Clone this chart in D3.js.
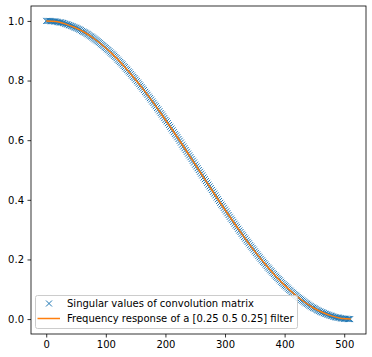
<!DOCTYPE html>
<meta charset="utf-8">
<style>
body { margin: 0; background: #fff; }
text { font: 10px "DejaVu Sans", sans-serif; fill: #000; }
.axis path, .axis line { stroke: #000; stroke-width: 0.8; }
</style>
<svg width="372" height="357"></svg>
<script src="https://cdnjs.cloudflare.com/ajax/libs/d3/7.8.5/d3.min.js"></script>
<script>

// singular values, one every 2nd index (0, 2, ..., 510)
var svStep = 2;
var singularValues = [
  1.000, 1.000, 1.000, 1.000, 0.999, 0.999, 0.999, 0.998, 0.998, 0.997, 0.996, 0.995, 0.995, 0.994, 0.993, 0.992,
  0.990, 0.989, 0.988, 0.986, 0.985, 0.983, 0.982, 0.980, 0.978, 0.977, 0.975, 0.973, 0.971, 0.969, 0.966, 0.964,
  0.962, 0.960, 0.957, 0.955, 0.952, 0.949, 0.947, 0.944, 0.941, 0.938, 0.935, 0.932, 0.929, 0.926, 0.922, 0.919,
  0.916, 0.912, 0.909, 0.905, 0.902, 0.898, 0.894, 0.890, 0.887, 0.883, 0.879, 0.875, 0.870, 0.866, 0.862, 0.858,
  0.854, 0.849, 0.845, 0.840, 0.836, 0.831, 0.827, 0.822, 0.817, 0.812, 0.808, 0.803, 0.798, 0.793, 0.788, 0.783,
  0.778, 0.773, 0.768, 0.762, 0.757, 0.752, 0.746, 0.741, 0.736, 0.730, 0.725, 0.719, 0.714, 0.708, 0.703, 0.697,
  0.691, 0.686, 0.680, 0.674, 0.668, 0.663, 0.657, 0.651, 0.645, 0.639, 0.633, 0.627, 0.621, 0.616, 0.610, 0.604,
  0.598, 0.592, 0.585, 0.579, 0.573, 0.567, 0.561, 0.555, 0.549, 0.543, 0.537, 0.531, 0.525, 0.518, 0.512, 0.506,
  0.500, 0.494, 0.488, 0.482, 0.475, 0.469, 0.463, 0.457, 0.451, 0.445, 0.439, 0.433, 0.427, 0.421, 0.415, 0.408,
  0.402, 0.396, 0.390, 0.384, 0.379, 0.373, 0.367, 0.361, 0.355, 0.349, 0.343, 0.337, 0.332, 0.326, 0.320, 0.314,
  0.309, 0.303, 0.297, 0.292, 0.286, 0.281, 0.275, 0.270, 0.264, 0.259, 0.254, 0.248, 0.243, 0.238, 0.233, 0.227,
  0.222, 0.217, 0.212, 0.207, 0.202, 0.197, 0.192, 0.188, 0.183, 0.178, 0.173, 0.169, 0.164, 0.160, 0.155, 0.151,
  0.146, 0.142, 0.138, 0.134, 0.130, 0.125, 0.121, 0.117, 0.113, 0.110, 0.106, 0.102, 0.098, 0.095, 0.091, 0.088,
  0.084, 0.081, 0.078, 0.074, 0.071, 0.068, 0.065, 0.062, 0.059, 0.056, 0.053, 0.051, 0.048, 0.045, 0.043, 0.040,
  0.038, 0.036, 0.034, 0.031, 0.029, 0.027, 0.025, 0.023, 0.022, 0.020, 0.018, 0.017, 0.015, 0.014, 0.012, 0.011,
  0.010, 0.008, 0.007, 0.006, 0.005, 0.005, 0.004, 0.003, 0.002, 0.002, 0.001, 0.001, 0.001, 0.000, 0.000, 0.000
];

var freqIndex = [0, 16, 32, 48, 64, 80, 96, 112, 128, 144, 160, 176, 192, 208, 224, 240,
  256, 272, 288, 304, 320, 336, 352, 368, 384, 400, 416, 432, 448, 464, 480, 496, 511];
var freqResponse = [1.000, 0.998, 0.990, 0.978, 0.962, 0.941, 0.916, 0.887, 0.854, 0.817,
  0.778, 0.736, 0.691, 0.645, 0.598, 0.549, 0.500, 0.451, 0.402, 0.355, 0.309, 0.264,
  0.222, 0.183, 0.146, 0.113, 0.084, 0.059, 0.038, 0.022, 0.010, 0.002, 0.000];

var xTicks = [0, 100, 200, 300, 400, 500];
var yTicks = [0.0, 0.2, 0.4, 0.6, 0.8, 1.0];
var labels = ["Singular values of convolution matrix",
              "Frequency response of a [0.25 0.5 0.25] filter"];

var svg = d3.select("svg"),
    plotL = 31, plotR = 366, plotT = 6, plotB = 334;

var x = d3.scaleLinear().domain([-25.55, 536.55]).range([plotL, plotR]);
var y = d3.scaleLinear().domain([-0.05, 1.05]).range([plotB, plotT]);

var blue = "#1f77b4", orange = "#ff7f0e";
var cross = "M-3,-3L3,3M-3,3L3,-3";

// markers
svg.append("g")
  .selectAll("path")
  .data(singularValues)
  .enter().append("path")
    .attr("transform", function(d, i) { return "translate(" + x(i * svStep) + "," + y(d) + ")"; })
    .attr("d", cross)
    .attr("stroke", blue)
    .attr("stroke-width", 1)
    .attr("fill", "none");

// frequency response line
var line = d3.line()
    .x(function(d, i) { return x(freqIndex[i]); })
    .y(function(d) { return y(d); })
    .curve(d3.curveMonotoneX);

svg.append("path")
    .datum(freqResponse)
    .attr("d", line)
    .attr("fill", "none")
    .attr("stroke", orange)
    .attr("stroke-width", 1.5);

// axes
svg.append("g")
    .attr("class", "axis")
    .attr("transform", "translate(0," + plotB + ")")
    .call(d3.axisBottom(x).tickValues(xTicks).tickSize(3.5).tickPadding(3.5).tickSizeOuter(0))
    .call(function(g) { g.select(".domain").remove(); g.selectAll("text").attr("font-family", null).attr("font-size", null); });

svg.append("g")
    .attr("class", "axis")
    .attr("transform", "translate(" + plotL + ",0)")
    .call(d3.axisLeft(y).tickValues(yTicks).tickFormat(d3.format(".1f")).tickSize(3.5).tickPadding(3.5))
    .call(function(g) { g.select(".domain").remove(); g.selectAll("text").attr("font-family", null).attr("font-size", null); });

svg.append("rect")
    .attr("x", plotL).attr("y", plotT)
    .attr("width", plotR - plotL).attr("height", plotB - plotT)
    .attr("fill", "none")
    .attr("stroke", "#000")
    .attr("stroke-width", 0.8);

// legend
var lg = svg.append("g").attr("transform", "translate(35.5,295.5)");
lg.append("rect")
    .attr("width", 262).attr("height", 33).attr("rx", 2)
    .attr("fill", "#fff").attr("fill-opacity", 0.8)
    .attr("stroke", "#ccc").attr("stroke-width", 1);
lg.append("path")
    .attr("transform", "translate(13.5,8)")
    .attr("d", cross)
    .attr("stroke", blue).attr("fill", "none");
lg.append("line")
    .attr("x1", 2).attr("x2", 24.5).attr("y1", 23).attr("y2", 23)
    .attr("stroke", orange).attr("stroke-width", 1.5);
lg.selectAll("text.lab")
  .data(labels)
  .enter().append("text")
    .attr("class", "lab")
    .attr("x", 31.5)
    .attr("y", function(d, i) { return 8 + i * 15; })
    .attr("dy", "0.35em")
    .text(function(d) { return d; });

</script>
